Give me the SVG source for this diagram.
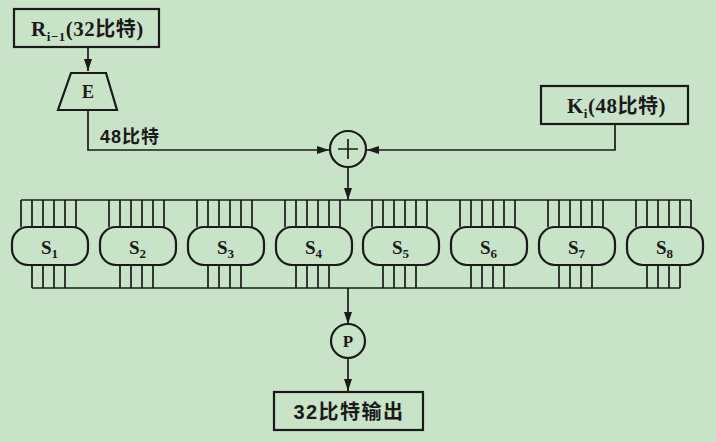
<svg xmlns="http://www.w3.org/2000/svg" width="716" height="442" viewBox="0 0 716 442">
<style>
.bg{fill:#c9e3c9}
.box{fill:none;stroke:#1a1a1a;stroke-width:2.2}
.wire{fill:none;stroke:#1a1a1a;stroke-width:1.7}
.lbl{font-family:"Liberation Serif","Noto Sans CJK SC",serif;font-weight:bold;fill:#1a1a1a}
.cjk{font-family:"Liberation Sans","Noto Sans CJK SC",sans-serif;font-weight:bold;fill:#1a1a1a}
.s{font-family:"Liberation Serif",serif;font-weight:bold;font-size:19px;fill:#1a1a1a}
</style>
<defs>
<marker id="ah" markerWidth="12" markerHeight="8" refX="12" refY="4" orient="auto" markerUnits="userSpaceOnUse">
<path d="M0,0 L12,4 L0,8 Z" fill="#1a1a1a"/>
</marker>
<g id="sbox">
<rect x="0" y="227" width="76" height="38" rx="16" ry="16" class="box"/>
<path class="wire" d="M9,200V227M20,200V227M31,200V227M42,200V227M53,200V227M64,200V227M20,265V288M31,265V288M42,265V288M53,265V288"/>
</g>
</defs>
<rect class="bg" x="0" y="0" width="716" height="442"/>

<g id="connectors">
<path class="wire" d="M88,48V71" marker-end="url(#ah)"/>
<path class="wire" d="M88,110V150H329" marker-end="url(#ah)"/>
<path class="wire" d="M615,124V150H367" marker-end="url(#ah)"/>
<path class="wire" d="M348,167V200" marker-end="url(#ah)"/>
<path class="wire" d="M21,200H691"/>
<path class="wire" d="M32,288H680"/>
<path class="wire" d="M348,288V324" marker-end="url(#ah)"/>
<path class="wire" d="M348,358V391" marker-end="url(#ah)"/>
</g>

<g id="r-input">
<rect class="box" x="14" y="9" width="145" height="38"/>
<text class="lbl" x="31" y="36" font-size="21" letter-spacing="0.5">R<tspan font-size="13" dy="5">i−1</tspan><tspan dy="-5">(32</tspan><tspan class="cjk" font-size="20">比特</tspan>)</text>
</g>

<g id="e-box">
<path class="box" d="M71,73H106L117,110H58Z"/>
<text class="lbl" x="88" y="98" font-size="18" text-anchor="middle">E</text>
</g>

<g id="label-48">
<text class="cjk" x="100" y="143" font-size="18" letter-spacing="1">48比特</text>
</g>

<g id="k-input">
<rect class="box" x="541" y="86" width="147" height="38"/>
<text class="lbl" x="567" y="113" font-size="21" letter-spacing="0.5">K<tspan font-size="13" dy="5">i</tspan><tspan dy="-5">(48</tspan><tspan class="cjk" font-size="20">比特</tspan>)</text>
</g>

<g id="xor">
<circle class="box" cx="348" cy="149" r="18"/>
<path class="wire" d="M338,149H358M348,139V159"/>
</g>

<g id="s1" transform="translate(12,0)"><use href="#sbox"/><text class="s" x="29" y="254">S<tspan font-size="13" dy="4">1</tspan></text></g>
<g id="s2" transform="translate(100,0)"><use href="#sbox"/><text class="s" x="29" y="254">S<tspan font-size="13" dy="4">2</tspan></text></g>
<g id="s3" transform="translate(188,0)"><use href="#sbox"/><text class="s" x="29" y="254">S<tspan font-size="13" dy="4">3</tspan></text></g>
<g id="s4" transform="translate(276,0)"><use href="#sbox"/><text class="s" x="29" y="254">S<tspan font-size="13" dy="4">4</tspan></text></g>
<g id="s5" transform="translate(363,0)"><use href="#sbox"/><text class="s" x="29" y="254">S<tspan font-size="13" dy="4">5</tspan></text></g>
<g id="s6" transform="translate(451,0)"><use href="#sbox"/><text class="s" x="29" y="254">S<tspan font-size="13" dy="4">6</tspan></text></g>
<g id="s7" transform="translate(539,0)"><use href="#sbox"/><text class="s" x="29" y="254">S<tspan font-size="13" dy="4">7</tspan></text></g>
<g id="s8" transform="translate(627,0)"><use href="#sbox"/><text class="s" x="29" y="254">S<tspan font-size="13" dy="4">8</tspan></text></g>

<g id="p-box">
<circle class="box" cx="348" cy="341" r="17"/>
<text class="lbl" x="348" y="347" font-size="17" text-anchor="middle">P</text>
</g>

<g id="output">
<rect class="box" x="274" y="392" width="149" height="38"/>
<text class="cjk" x="349" y="419" font-size="20" text-anchor="middle" letter-spacing="1.5">32比特输出</text>
</g>
</svg>
